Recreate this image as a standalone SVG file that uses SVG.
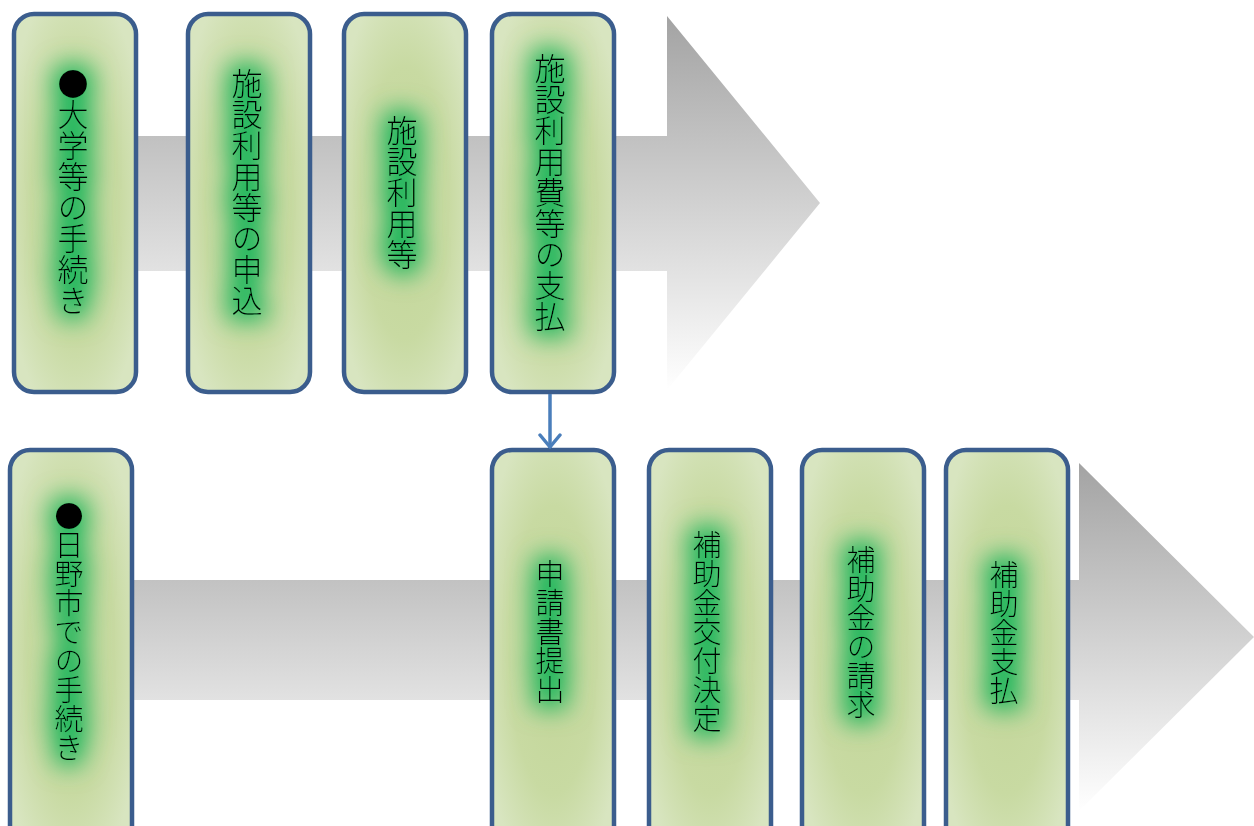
<svg xmlns="http://www.w3.org/2000/svg" width="1254" height="826" viewBox="0 0 1254 826">
<defs>
<linearGradient id="arrowGrad" x1="0" y1="0" x2="0" y2="1">
<stop offset="0" stop-color="#a3a3a3"/>
<stop offset="1" stop-color="#ffffff"/>
</linearGradient>
<radialGradient id="boxGrad" cx="0.5" cy="0.5" r="0.6">
<stop offset="0" stop-color="#c2d598"/>
<stop offset="0.6" stop-color="#c8daa2"/>
<stop offset="1" stop-color="#d8e5c0"/>
</radialGradient>
<filter id="glow" x="-150%" y="-30%" width="400%" height="160%">
<feMorphology in="SourceAlpha" operator="dilate" radius="6" result="d"/>
<feGaussianBlur in="d" stdDeviation="12" result="b"/>
<feFlood flood-color="#00b050" flood-opacity="0.85"/>
<feComposite in2="b" operator="in" result="g"/>
<feMerge><feMergeNode in="g"/><feMergeNode in="SourceGraphic"/></feMerge>
</filter>
<marker id="chev" viewBox="0 0 24 16" refX="12" refY="15" markerWidth="24" markerHeight="16" orient="0" markerUnits="userSpaceOnUse">
<path d="M2,2 L12,14 L22,2" fill="none" stroke="#4a7ebb" stroke-width="3.5" stroke-linecap="round" stroke-linejoin="round"/>
</marker>
</defs>
<style>
.box{fill:url(#boxGrad);stroke:#3b5d8d;stroke-width:4.5}
.lbl{font-family:"Noto Sans CJK JP","Noto Sans CJK SC",sans-serif;font-weight:300;fill:#000;writing-mode:vertical-rl;text-orientation:upright;text-anchor:middle;filter:url(#glow)}
.top{font-size:31px}
.bot{font-size:29px}
</style>
<g id="arrows">
<polygon points="135,136 667,136 667,16 820,203 667,390 667,271 135,271" fill="url(#arrowGrad)"/>
<polygon points="133,580 1079,580 1079,463 1254,637 1079,811 1079,700 133,700" fill="url(#arrowGrad)"/>
</g>
<g id="n1"><rect class="box" x="14" y="14" width="122" height="378" rx="20"/><text class="lbl top" x="73" y="192">●大学等の手続き</text></g>
<g id="n2"><rect class="box" x="188" y="14" width="122" height="378" rx="20"/><text class="lbl top" x="247" y="192">施設利用等の申込</text></g>
<g id="n3"><rect class="box" x="344" y="14" width="122" height="378" rx="20"/><text class="lbl top" x="402" y="192">施設利用等</text></g>
<g id="n4"><rect class="box" x="492" y="14" width="122" height="378" rx="20"/><text class="lbl top" x="550" y="192">施設利用費等の支払</text></g>
<g id="n5"><rect class="box" x="10" y="450" width="122" height="400" rx="20"/><text class="lbl bot" x="69" y="632">●日野市での手続き</text></g>
<g id="n6"><rect class="box" x="492" y="450" width="122" height="400" rx="20"/><text class="lbl bot" x="550" y="632">申請書提出</text></g>
<g id="n7"><rect class="box" x="649" y="450" width="122" height="400" rx="20"/><text class="lbl bot" x="707" y="632">補助金交付決定</text></g>
<g id="n8"><rect class="box" x="802" y="450" width="122" height="400" rx="20"/><text class="lbl bot" x="861" y="632">補助金の請求</text></g>
<g id="n9"><rect class="box" x="946" y="450" width="122" height="400" rx="20"/><text class="lbl bot" x="1004" y="633">補助金支払</text></g>
<g id="connectors">
<line x1="550" y1="394" x2="550" y2="448" stroke="#4a7ebb" stroke-width="3.5" marker-end="url(#chev)"/>
</g>
</svg>
